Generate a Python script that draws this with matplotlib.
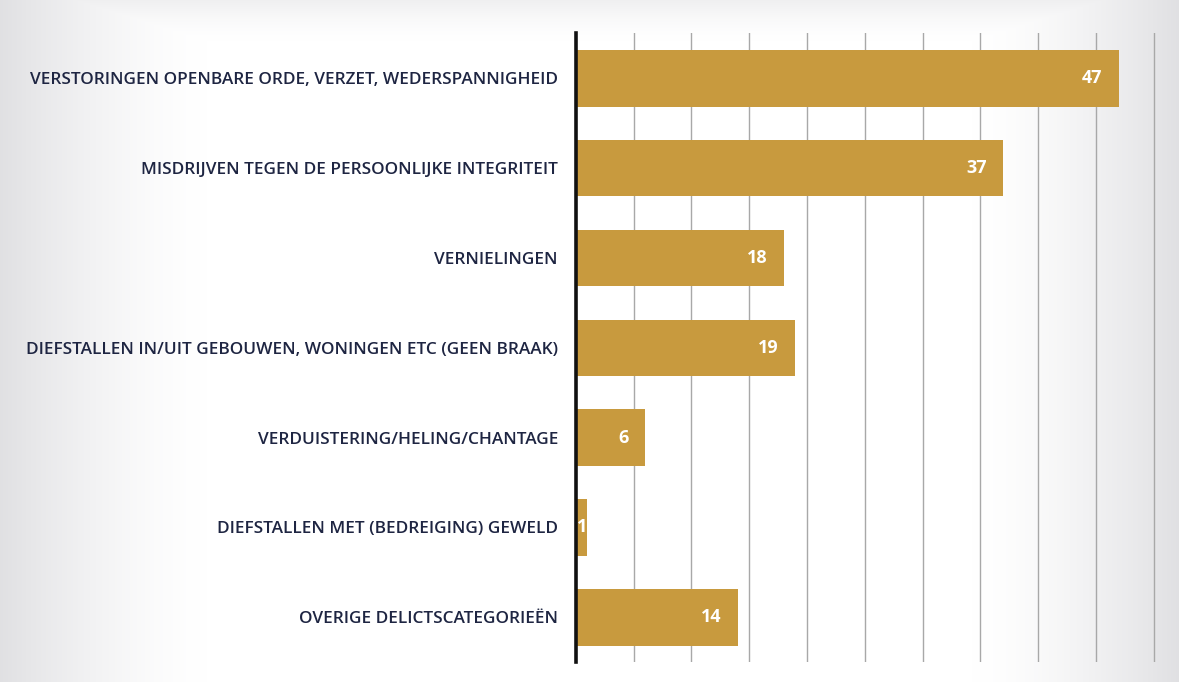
import numpy as np
import matplotlib.pyplot as plt

categories = [
    "VERSTORINGEN OPENBARE ORDE, VERZET, WEDERSPANNIGHEID",
    "MISDRIJVEN TEGEN DE PERSOONLIJKE INTEGRITEIT",
    "VERNIELINGEN",
    "DIEFSTALLEN IN/UIT GEBOUWEN, WONINGEN ETC (GEEN BRAAK)",
    "VERDUISTERING/HELING/CHANTAGE",
    "DIEFSTALLEN MET (BEDREIGING) GEWELD",
    "OVERIGE DELICTSCATEGORIEËN",
]
values = [47, 37, 18, 19, 6, 1, 14]

bar_color = "#C89A3E"
label_color = "#1E2542"

fig = plt.figure(figsize=(11.79, 6.82), dpi=100)

# faint grey shading towards the page edges
w, h = 1179, 682
xx = np.linspace(-1, 1, w)
yy = np.linspace(-1, 1, h)
gx = np.clip((np.abs(xx) - 0.65) / 0.35, 0, 1) ** 1.5
gy = np.clip((-yy - 0.88) / 0.12, 0, 1) ** 1.5
shade = np.maximum(gx[None, :], gy[:, None] * 0.5)
bg = 1.0 - 0.12 * shade
bg_ax = fig.add_axes([0, 0, 1, 1], zorder=-1)
bg_ax.imshow(np.dstack([bg, bg, np.minimum(bg + 0.01 * shade, 1)]), aspect="auto",
             extent=[0, 1, 0, 1], origin="upper", vmin=0, vmax=1)
bg_ax.axis("off")

ax = fig.add_axes([0.4885, 0.029, 0.4929, 0.922])
ax.patch.set_alpha(0)

y = np.arange(len(categories))
ax.barh(y, values, height=0.63, color=bar_color, zorder=3)

ax.set_xlim(0, 50.3)
ax.set_ylim(len(categories) - 0.5, -0.5)
ax.set_xticks(np.arange(5, 51, 5))
ax.xaxis.grid(True, color="#A8A8A8", linewidth=1.0, zorder=0)
ax.tick_params(axis="x", length=0, labelbottom=False)
ax.tick_params(axis="y", length=0, pad=13)
ax.set_yticks(y)
ax.set_yticklabels(categories, fontsize=12.4, color=label_color,
                   family="Open Sans", fontweight="semibold")

for side in ("top", "right", "bottom"):
    ax.spines[side].set_visible(False)
ax.spines["left"].set_linewidth(2.6)
ax.spines["left"].set_color("#111111")
ax.spines["left"].set_zorder(4)

# value labels inside the bar ends
for yi, v in zip(y, values):
    if v >= 3:
        ax.annotate(str(v), (v, yi), xytext=(-12, 0), textcoords="offset points",
                    ha="right", va="center", color="white", fontsize=13,
                    fontweight="bold", family="Open Sans", zorder=5)
    else:
        ax.text(v / 2, yi, str(v), ha="center", va="center", color="white",
                fontsize=13, fontweight="bold", family="Open Sans", zorder=5)

fig.savefig("out.png", dpi=100)
